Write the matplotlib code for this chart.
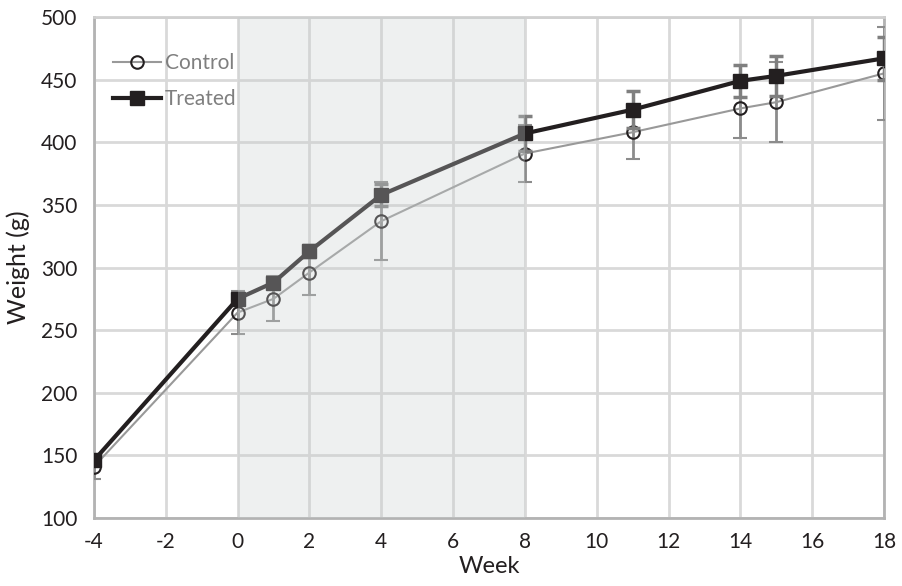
import matplotlib
matplotlib.use('Agg')
import matplotlib.pyplot as plt
from matplotlib.lines import Line2D

plt.rcParams['font.family'] = ['Lato', 'DejaVu Sans']

# data
weeks = [-4, 0, 1, 2, 4, 8, 11, 14, 15, 18]
control = [141, 264, 275, 296, 337, 391, 408, 427, 432, 455]
control_err = [10, 17, 18, 18, 31, 23, 21, 24, 32, 37]
treated = [146, 275, 288, 313, 358, 407, 426, 449, 453, 467]
treated_err = [3, 4, 3, 5, 9, 14, 15, 13, 16, 17]
x_ticks = list(range(-4, 19, 2))
y_ticks = list(range(100, 501, 50))

fig = plt.figure(figsize=(9.03, 5.86), dpi=100)
ax = fig.add_axes([0.104, 0.116, 0.875, 0.855])

ax.errorbar(weeks, control, yerr=control_err, color='#999999', lw=1.5,
            marker='o', ms=9, mfc='none', mec='#231f20', mew=1.5,
            ecolor='#8c8c8c', elinewidth=2, capsize=5, capthick=2, zorder=3)
ax.errorbar(weeks, treated, yerr=treated_err, color='#231f20', lw=3,
            marker='s', ms=10, mfc='#231f20', mec='#231f20',
            ecolor='#7f7f7f', elinewidth=2.5, capsize=5, capthick=2.5, zorder=4)

# shaded treatment window, drawn over the data
ax.axvspan(0, 8, color=(201/255, 207/255, 207/255), alpha=0.31, lw=0, zorder=5)

ax.set_xlim(-4, 18)
ax.set_ylim(100, 500)
ax.set_xticks(x_ticks)
ax.set_yticks(y_ticks)
ax.set_xticklabels([str(v) for v in x_ticks])
ax.grid(True, color='#d9d9d9', lw=2, zorder=0)
ax.set_axisbelow(True)
ax.tick_params(length=0, labelsize=15, colors='#231f20')
ax.tick_params(axis='y', pad=12)
ax.tick_params(axis='x', pad=10)

for side in ['left', 'bottom', 'right']:
    ax.spines[side].set_color('#b3b3b3')
    ax.spines[side].set_linewidth(2)
ax.spines['top'].set_color('#d0d0d0')
ax.spines['top'].set_linewidth(2)

ax.set_xlabel('Week', fontsize=17, color='#231f20', labelpad=3)
ax.set_ylabel('Weight (g)', fontsize=18, color='#231f20', labelpad=8)

handles = [
    Line2D([], [], color='#999999', lw=1.5, marker='o', ms=9, mfc='none',
           mec='#231f20', mew=1.5),
    Line2D([], [], color='#231f20', lw=3, marker='s', ms=10, mfc='#231f20',
           mec='#231f20'),
]
ax.legend(handles, ['Control', 'Treated'], loc='upper left',
          bbox_to_anchor=(0.0, 0.965), frameon=False, fontsize=15,
          handlelength=2.3, handletextpad=0.2, labelspacing=0.75,
          labelcolor='#7f7f7f')

fig.savefig('out.png', dpi=100)
